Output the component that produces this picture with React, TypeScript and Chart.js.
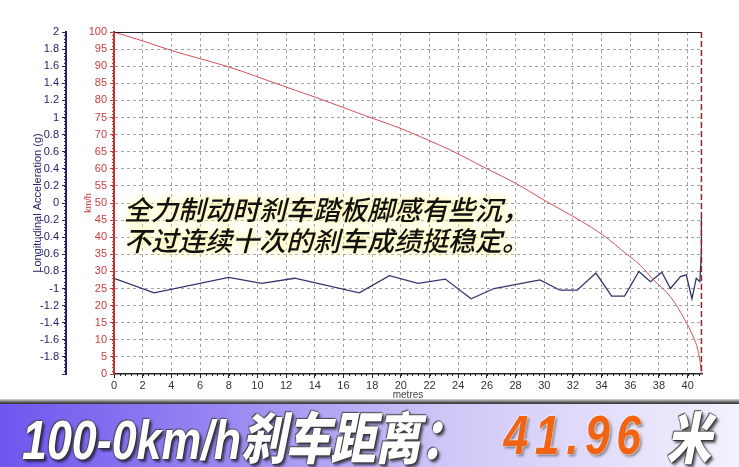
import { useEffect, useRef } from 'react';
import { Chart, registerables } from 'chart.js';

Chart.register(...registerables);

// ---- data ----
const speedDistance = [0, 2, 4, 6, 8, 10, 12, 14, 16, 18, 20, 22, 23.5, 26, 28, 30, 32.5, 34.1, 35.7, 36.7, 37.6, 38.8, 39.8, 40.4, 40.7, 40.9, 40.96];
const speedKmh = [100, 97.4, 94.6, 92.2, 89.8, 86.9, 83.9, 81.0, 77.9, 74.8, 71.8, 68.2, 65.4, 60.0, 55.8, 50.8, 44.9, 40.6, 35.2, 31.8, 27.6, 22.6, 15.9, 10.8, 7.2, 2.6, 0];

const accelDistance = [0, 2.8, 8.0, 10.3, 12.6, 17.1, 19.2, 21.2, 23.1, 24.9, 26.5, 29.7, 31.1, 32.3, 33.6, 34.7, 35.6, 36.6, 37.4, 38.2, 38.8, 39.5, 39.9, 40.3, 40.6, 40.85, 40.96, 40.96];
const accelG = [-0.88, -1.05, -0.87, -0.94, -0.88, -1.05, -0.85, -0.94, -0.89, -1.12, -1.0, -0.9, -1.02, -1.02, -0.82, -1.09, -1.09, -0.8, -0.92, -0.81, -1.0, -0.86, -0.84, -1.12, -0.88, -0.92, -0.56, -0.16];

const brakingDistance = 40.96;
const xMax = 41;
const xStep = 2;
const xMinorStep = 0.4;
const kmhMin = 0;
const kmhMax = 100;
const kmhStep = 5;
const kmhMinorStep = 1;
const accMin = -2;
const accMax = 2;
const accStep = 0.2;
const accMinorStep = 0.04;

const captionLines = ['全力制动时刹车踏板脚感有些沉，', '不过连续十次的刹车成绩挺稳定。'];
const bannerLabel = '100-0km/h刹车距离：';
const bannerValue = '41.96';
const bannerUnit = ' 米';

const NAVY = '#23236e';
const RED = '#c83c3c';

const minorTicks = {
  id: 'minorTicks',
  afterDraw(chart: any) {
    const ctx = chart.ctx;
    const sx = chart.scales.x;
    const sk = chart.scales.kmh;
    const sa = chart.scales.acc;
    ctx.save();
    ctx.lineWidth = 1;
    ctx.strokeStyle = '#222';
    ctx.beginPath();
    const nx = Math.floor(sx.max / xMinorStep + 1e-6);
    for (let i = 0; i <= nx; i++) {
      const px = Math.round(sx.getPixelForValue(i * xMinorStep)) + 0.5;
      ctx.moveTo(px, sx.top);
      ctx.lineTo(px, sx.top + 2);
    }
    ctx.stroke();
    ctx.strokeStyle = RED;
    ctx.beginPath();
    const nk = Math.round((kmhMax - kmhMin) / kmhMinorStep);
    for (let i = 0; i <= nk; i++) {
      const py = Math.round(sk.getPixelForValue(kmhMin + i * kmhMinorStep)) + 0.5;
      ctx.moveTo(sk.right - 2, py);
      ctx.lineTo(sk.right + 1, py);
    }
    ctx.stroke();
    ctx.strokeStyle = NAVY;
    ctx.beginPath();
    const na = Math.round((accMax - accMin) / accMinorStep);
    for (let i = 0; i <= na; i++) {
      const py = Math.round(sa.getPixelForValue(accMin + i * accMinorStep)) + 0.5;
      ctx.moveTo(sa.right - 2, py);
      ctx.lineTo(sa.right + 1, py);
    }
    ctx.stroke();
    ctx.restore();
  },
};

const frame = {
  id: 'frame',
  afterDatasetsDraw(chart: any) {
    const ctx = chart.ctx;
    const area = chart.chartArea;
    const sx = chart.scales.x;
    ctx.save();
    ctx.strokeStyle = '#222';
    ctx.lineWidth = 1;
    ctx.beginPath();
    ctx.moveTo(area.left, Math.round(area.top) + 0.5);
    ctx.lineTo(area.right, Math.round(area.top) + 0.5);
    ctx.stroke();
    const px = sx.getPixelForValue(brakingDistance);
    ctx.strokeStyle = '#8a2a2a';
    ctx.lineWidth = 1.5;
    ctx.setLineDash([6, 3]);
    ctx.beginPath();
    ctx.moveTo(px, area.top);
    ctx.lineTo(px, area.bottom);
    ctx.stroke();
    ctx.restore();
  },
};

export default function App() {
  const canvasRef = useRef<HTMLCanvasElement | null>(null);

  useEffect(() => {
    document.body.style.margin = '0';
    const canvas = canvasRef.current;
    if (!canvas) return;
    const chart = new Chart(canvas, {
      type: 'line',
      data: {
        datasets: [
          {
            label: 'Speed',
            data: speedDistance.map((d, i) => ({ x: d, y: speedKmh[i] })),
            yAxisID: 'kmh',
            borderColor: '#d4505a',
            borderWidth: 1,
            pointRadius: 0,
            cubicInterpolationMode: 'monotone',
          },
          {
            label: 'Longitudinal Acceleration',
            data: accelDistance.map((d, i) => ({ x: d, y: accelG[i] })),
            yAxisID: 'acc',
            borderColor: '#33336f',
            borderWidth: 1.3,
            pointRadius: 0,
            tension: 0,
          },
        ],
      },
      options: {
        animation: false,
        responsive: false,
        maintainAspectRatio: false,
        layout: { padding: { top: 32, right: 37, left: 0, bottom: 0 } },
        plugins: { legend: { display: false }, tooltip: { enabled: false } },
        scales: {
          x: {
            type: 'linear',
            position: 'bottom',
            min: 0,
            max: xMax,
            afterFit: (s: any) => { s.height = 26; },
            ticks: {
              stepSize: xStep,
              includeBounds: false,
              autoSkip: false,
              maxRotation: 0,
              padding: 1,
              color: '#333',
              font: { family: 'Arial, "Liberation Sans"', size: 11 },
            },
            grid: {
              color: (c: any) => (c.tick && c.tick.value === 0 ? 'rgba(0,0,0,0)' : '#a4a4a4'),
              tickColor: '#222',
              tickLength: 4,
              lineWidth: 1,
            },
            border: { display: true, color: '#222', width: 1.5, dash: [3, 3] },
            title: {
              display: true,
              text: 'metres',
              color: '#444',
              padding: 0,
              font: { family: 'Arial, "Liberation Sans"', size: 10, lineHeight: 1 },
            },
          },
          kmh: {
            type: 'linear',
            position: 'left',
            weight: 0,
            min: kmhMin,
            max: kmhMax,
            afterFit: (s: any) => { s.width = 48; },
            ticks: {
              stepSize: kmhStep,
              includeBounds: false,
              autoSkip: false,
              padding: 3,
              color: RED,
              font: { family: 'Arial, "Liberation Sans"', size: 11 },
            },
            grid: {
              color: (c: any) =>
                c.tick && (c.tick.value === kmhMin || c.tick.value === kmhMax) ? 'rgba(0,0,0,0)' : '#a4a4a4',
              tickColor: RED,
              tickLength: 4,
              lineWidth: 1,
            },
            border: { display: true, color: '#d02828', width: 2, dash: [3, 3] },
            title: {
              display: true,
              text: 'km/h',
              color: RED,
              padding: { top: 17, bottom: 0 },
              font: { family: 'Arial, "Liberation Sans"', size: 9 },
            },
          },
          acc: {
            type: 'linear',
            position: 'left',
            weight: 1,
            min: accMin,
            max: accMax,
            afterFit: (s: any) => { s.width = 66; },
            ticks: {
              stepSize: accStep,
              includeBounds: false,
              autoSkip: false,
              padding: 3,
              color: NAVY,
              font: { family: 'Arial, "Liberation Sans"', size: 11 },
              callback: (v: any) => {
                const n = Number(Number(v).toFixed(1));
                if (n === accMin) return '';
                return (n === 0 ? 0 : n).toString();
              },
            },
            grid: {
              drawOnChartArea: false,
              tickColor: NAVY,
              tickLength: 4,
            },
            border: { display: true, color: NAVY, width: 2 },
            title: {
              display: true,
              text: 'Longitudinal Acceleration (g)',
              color: NAVY,
              padding: { top: 31, bottom: 0 },
              font: { family: 'Arial, "Liberation Sans"', size: 11 },
            },
          },
        },
      },
      plugins: [minorTicks, frame],
    } as any);
    return () => chart.destroy();
  }, []);

  const whiteShadow = '0 0 2px #333, 1px 1px 1px #333, -1px -1px 1px #555, 3px 3px 3px rgba(0,0,0,0.6)';

  return (
    <div style={{ position: 'relative', width: 739, height: 467, background: '#fff', overflow: 'hidden' }}>
      <canvas ref={canvasRef} width={739} height={400} style={{ position: 'absolute', left: 0, top: 0, width: 739, height: 400 }} />
      <div
        style={{
          position: 'absolute',
          left: 124,
          top: 193,
          fontFamily: '"Noto Sans CJK SC", sans-serif',
          fontSize: 27,
          lineHeight: '31px',
          fontStyle: 'italic',
          fontWeight: 500,
          color: '#111',
          whiteSpace: 'nowrap',
          textShadow: '0 0 3px #fffbd0, 0 0 6px #fff6a8, 0 0 9px #fff6a8',
        }}
      >
        {captionLines.map((l, i) => (
          <div key={i}>{l}</div>
        ))}
      </div>
      <div
        style={{
          position: 'absolute',
          left: 0,
          top: 399,
          width: 739,
          height: 5,
          background: 'linear-gradient(to bottom, #d8d8d8, #555 70%, #333)',
        }}
      />
      <div
        style={{
          position: 'absolute',
          left: 0,
          top: 404,
          width: 739,
          height: 63,
          background: 'linear-gradient(to right, #7055ee 0%, #9a86f2 30%, #cfc6f7 60%, #f3f1fd 100%)',
        }}
      />
      <div
        style={{
          position: 'absolute',
          left: 22,
          top: 402,
          height: 65,
          display: 'flex',
          alignItems: 'center',
          whiteSpace: 'pre',
          fontFamily: '"Liberation Sans", Arial, "Noto Sans CJK SC", sans-serif',
          fontSize: 56,
          fontWeight: 900,
          fontStyle: 'italic',
          transformOrigin: 'left center',
          transform: 'scaleX(0.8)',
        }}
      >
        <span style={{ color: '#fff', textShadow: whiteShadow }}>{bannerLabel}</span>
        <span
          style={{
            color: '#f06414',
            marginLeft: 48,
            letterSpacing: 8,
            textShadow: '0 0 2px #fff, 0 0 2px #fff, 2px 2px 3px rgba(0,0,0,0.5)',
          }}
        >
          {bannerValue}
        </span>
        <span style={{ color: '#fff', marginLeft: 8, textShadow: whiteShadow }}>{bannerUnit}</span>
      </div>
    </div>
  );
}
